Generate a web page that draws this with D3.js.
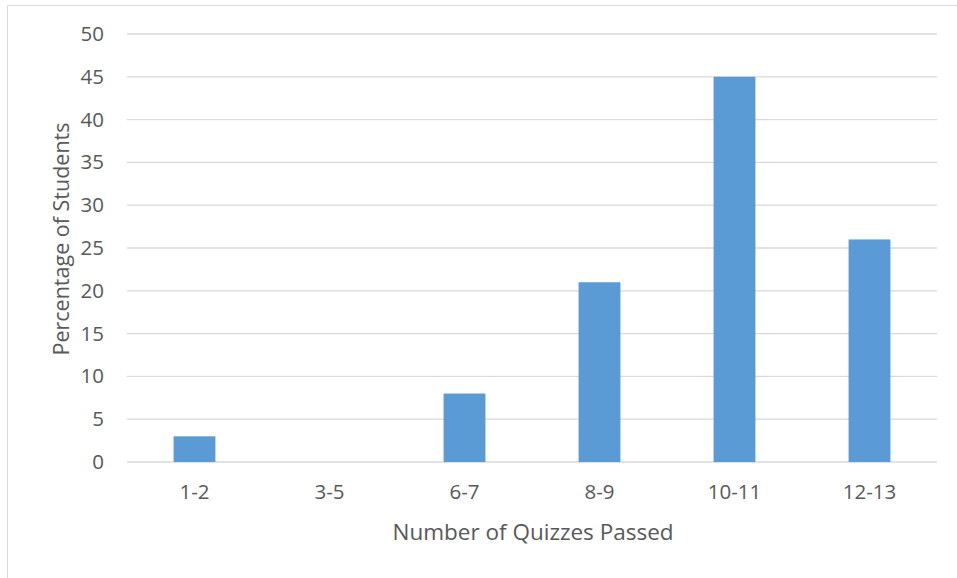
<!DOCTYPE html>
<html><head><meta charset="utf-8">
<script src="https://cdn.jsdelivr.net/npm/d3@7"></script>
<style>body{margin:0;background:#fff;} svg{display:block;} text{font-family:"Open Sans",sans-serif;fill:#595959;}</style>
</head><body>
<svg id="c" width="957" height="578"></svg>
<script>
const categories = ["1-2","3-5","6-7","8-9","10-11","12-13"];
const values = [3,0,8,21,45,26];
const yTicks = [0,5,10,15,20,25,30,35,40,45,50];

(function(){
const svg = d3.select("#c");
svg.append("path").attr("d","M7.5,578 L7.5,5.5 L957,5.5").attr("fill","none").attr("stroke","#d9d9d9").attr("stroke-width",1);

const pL=127, pR=937, pT=34, pB=462;
const x = d3.scaleBand().domain(categories).range([pL,pR]).paddingInner(0.69).paddingOuter(0.345);
const y = d3.scaleLinear().domain([0,50]).range([pB,pT]);

svg.append("g").selectAll("line").data(yTicks).join("line")
  .attr("x1",pL).attr("x2",pR).attr("y1",d=>y(d)).attr("y2",d=>y(d))
  .attr("stroke","#d9d9d9").attr("stroke-width",1.3);

svg.append("g").selectAll("rect").data(values).join("rect")
  .attr("x",(d,i)=>x(categories[i])).attr("width",x.bandwidth())
  .attr("y",d=>y(d)).attr("height",d=>y(0)-y(d)).attr("fill","#5B9BD5");

const yAxis = d3.axisLeft(y).tickValues(yTicks).tickSize(0).tickPadding(23);
const gy = svg.append("g").attr("transform",`translate(${pL},0)`).call(yAxis);
gy.select(".domain").remove();
gy.selectAll("text").style("font-size","20.5px").style("font-family","'Open Sans',sans-serif").attr("fill","#595959");

const xAxis = d3.axisBottom(x).tickSize(0).tickPadding(22);
const gx = svg.append("g").attr("transform",`translate(0,${pB})`).call(xAxis);
gx.select(".domain").remove();
gx.selectAll("text").style("font-size","20.5px").style("font-family","'Open Sans',sans-serif").attr("fill","#595959");

svg.append("text").attr("x",533).attr("y",540).attr("text-anchor","middle").style("font-size","22.5px").text("Number of Quizzes Passed");
svg.append("text").attr("transform","translate(69,239) rotate(-90)").attr("text-anchor","middle").style("font-size","21.5px").text("Percentage of Students");
})();
</script>
</body></html>
